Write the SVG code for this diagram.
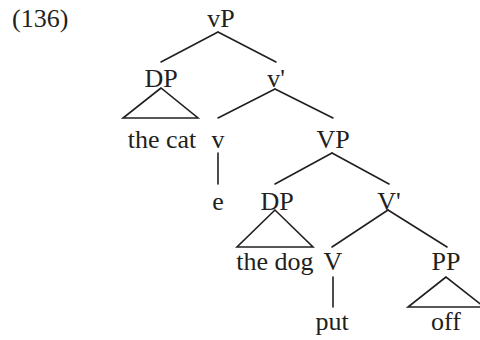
<svg xmlns="http://www.w3.org/2000/svg" width="480" height="340" viewBox="0 0 480 340">
<style>
text{font-family:"Liberation Serif","Times New Roman",serif;font-size:26px;fill:#231f20;text-anchor:middle}
.e line,.e polygon{stroke:#231f20;stroke-width:1.6;fill:none;stroke-linecap:round;stroke-linejoin:miter}
</style>
<rect width="480" height="340" fill="#fff"/>
<text x="12" y="27" style="text-anchor:start">(136)</text>
<g id="vP"><text x="221" y="27">vP</text></g>
<g id="DP1"><text x="161" y="87">DP</text></g>
<g id="vbar"><text x="276" y="87">v'</text></g>
<g id="thecat"><text x="162" y="148">the cat</text></g>
<g id="v"><text x="218" y="148">v</text></g>
<g id="VP"><text x="333" y="148">VP</text></g>
<g id="e"><text x="218" y="210">e</text></g>
<g id="DP2"><text x="277" y="210">DP</text></g>
<g id="Vbar"><text x="389" y="210">V'</text></g>
<g id="thedog"><text x="275" y="270">the dog</text></g>
<g id="V"><text x="333" y="270">V</text></g>
<g id="PP"><text x="446" y="270">PP</text></g>
<g id="put"><text x="332" y="330">put</text></g>
<g id="off"><text x="446" y="330">off</text></g>
<g id="edges" class="e">
<line x1="218" y1="32" x2="161" y2="62"/>
<line x1="218" y1="32" x2="276" y2="62"/>
<polygon points="161,88 123,118 198,118"/>
<line x1="275" y1="89" x2="218" y2="118"/>
<line x1="275" y1="89" x2="333" y2="118"/>
<line x1="218" y1="153" x2="218" y2="184"/>
<line x1="332" y1="153" x2="275" y2="184"/>
<line x1="332" y1="153" x2="389" y2="184"/>
<polygon points="275,210 237,247 313,247"/>
<line x1="388" y1="210" x2="332" y2="247"/>
<line x1="388" y1="210" x2="447" y2="247"/>
<line x1="333" y1="277" x2="333" y2="307"/>
<polygon points="446,277 408,307 484,307"/>
</g>
</svg>
